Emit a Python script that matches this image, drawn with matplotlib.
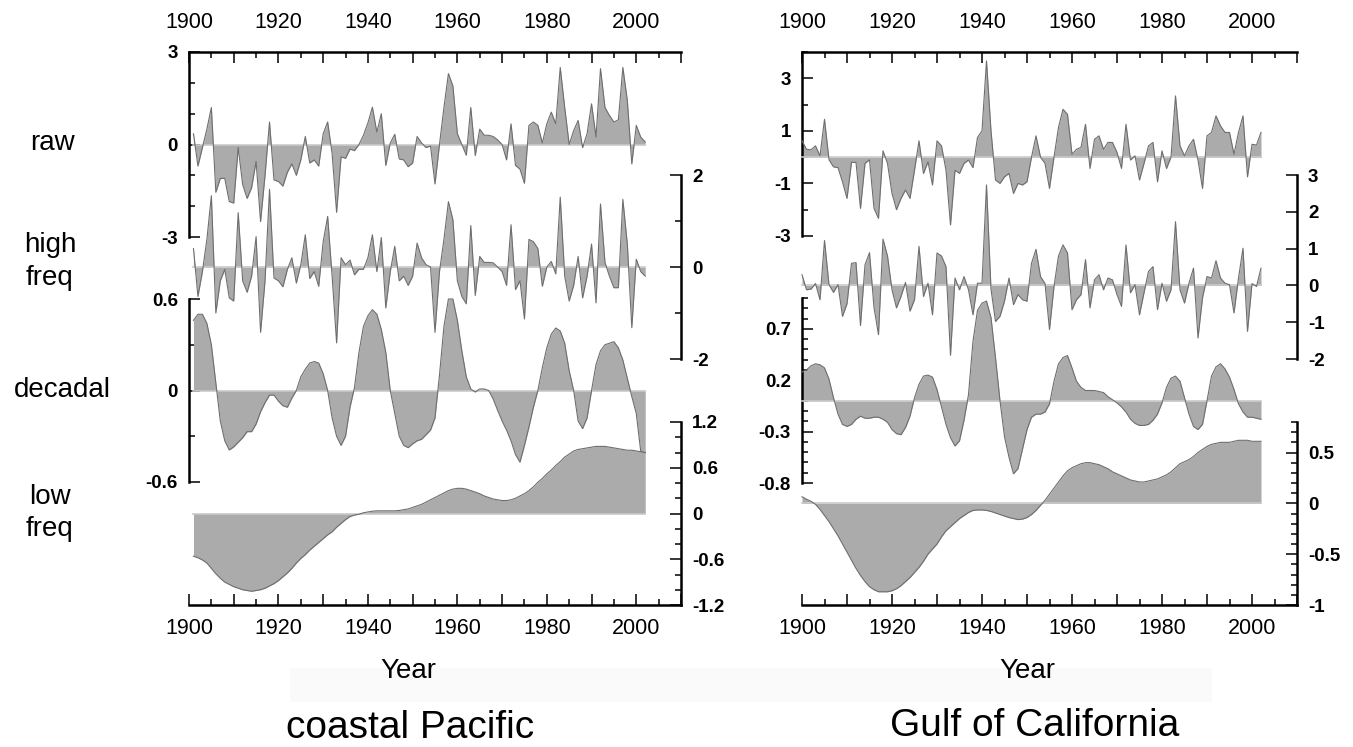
import matplotlib.pyplot as plt
import numpy as np
from matplotlib.patches import Rectangle
from matplotlib.ticker import FuncFormatter

plt.rcParams['font.family'] = ['Liberation Sans', 'DejaVu Sans']

W, H = 1353, 747

# ---- coastal Pacific (left) ----
years_cp = np.arange(1901, 2003)
raw_cp = [0.35, -0.7, -0.1, 0.5, 1.2, -1.55, -1.1, -1.1, -1.85, -1.9,
          -0.1, -1.3, -1.75, -1.4, -0.55, -2.5, -1.0, 0.73, -1.15, -1.2,
          -1.35, -0.9, -0.63, -1.0, -0.5, 0.26, -0.6, -0.5, -0.7, 0.35,
          0.73, -0.3, -2.2, -0.4, -0.45, -0.15, -0.2, 0.0, 0.3, 0.7,
          1.21, 0.4, 1.0, -0.68, 0.05, 0.33, -0.47, -0.5, -0.72, -0.6,
          0.26, 0.05, -0.1, -0.05, -1.28, 0.0, 1.2, 2.3, 1.9, 0.35,
          0.0, -0.35, 1.2, -0.36, 0.5, 0.3, 0.3, 0.26, 0.15, 0.0,
          -0.5, 0.67, -0.68, -0.8, -1.26, 0.62, 0.73, 0.62, 0.05, 0.67,
          1.05, 0.67, 2.5, 1.2, 0.0, 0.45, 0.78, -0.1, 0.35, 1.32,
          0.24, 2.46, 1.2, 0.94, 0.73, 0.8, 2.5, 1.43, -0.63, 0.62,
          0.24, 0.08]
high_cp = [0.4, -0.64, -0.1, 0.6, 1.55, -1.0, -0.3, -0.05, -0.67, -0.74,
           1.18, -0.3, -0.55, -0.2, 0.66, -1.42, -0.3, 1.69, -0.24, -0.3,
           -0.43, -0.05, 0.2, -0.35, 0.05, 0.7, -0.25, -0.1, -0.42, 0.55,
           1.1, -0.2, -1.65, 0.2, 0.05, 0.15, -0.17, -0.05, -0.05, 0.2,
           0.7, -0.1, 0.64, -0.89, -0.1, 0.45, -0.3, -0.2, -0.4, -0.2,
           0.52, 0.2, 0.05, 0.0, -1.42, -0.1, 0.6, 1.42, 1.03, -0.3,
           -0.64, -0.8, 0.9, -0.62, 0.23, 0.1, 0.1, 0.09, 0.0, -0.1,
           -0.4, 0.92, -0.49, -0.3, -1.13, 0.6, 0.55, 0.4, -0.42, 0.0,
           0.12, -0.15, 1.52, -0.2, -0.74, -0.4, 0.23, -0.67, -0.2, 0.5,
           -0.78, 1.37, 0.1, -0.2, -0.45, -0.45, 1.47, 0.5, -1.32, 0.17,
           -0.1, -0.2]
dec_cp = [0.46, 0.5, 0.5, 0.44, 0.3, 0.05, -0.2, -0.33, -0.39, -0.37,
          -0.34, -0.31, -0.27, -0.27, -0.22, -0.14, -0.08, -0.03, -0.03, -0.07,
          -0.1, -0.11, -0.05, 0.0, 0.09, 0.14, 0.18, 0.19, 0.18, 0.11,
          0.0, -0.18, -0.3, -0.36, -0.3, -0.11, 0.02, 0.25, 0.42, 0.49,
          0.53, 0.5, 0.4, 0.25, 0.0, -0.15, -0.3, -0.36, -0.375, -0.35,
          -0.33, -0.32, -0.29, -0.26, -0.18, 0.1, 0.42, 0.6, 0.6, 0.46,
          0.26, 0.09, 0.01, -0.01, 0.01, 0.01, 0.0, -0.055, -0.13, -0.2,
          -0.26, -0.33, -0.42, -0.47, -0.36, -0.24, -0.11, 0.0, 0.15, 0.28,
          0.37, 0.41, 0.39, 0.31, 0.13, 0.0, -0.2, -0.25, -0.18, 0.0,
          0.17, 0.26, 0.3, 0.31, 0.32, 0.28, 0.2, 0.08, -0.04, -0.15,
          -0.4, -0.41]
low_cp = [-0.56, -0.58, -0.61, -0.65, -0.72, -0.79, -0.85, -0.9, -0.93, -0.96,
          -0.98, -1.0, -1.01, -1.02, -1.01, -1.0, -0.98, -0.95, -0.92, -0.88,
          -0.83, -0.78, -0.72, -0.65, -0.59, -0.54, -0.48, -0.43, -0.38, -0.33,
          -0.28, -0.24, -0.18, -0.13, -0.08, -0.04, -0.02, -0.01, 0.01, 0.02,
          0.03, 0.035, 0.035, 0.035, 0.035, 0.035, 0.04, 0.05, 0.06, 0.08,
          0.1, 0.12, 0.15, 0.18, 0.21, 0.24, 0.27, 0.3, 0.32, 0.33,
          0.33, 0.32, 0.3, 0.28, 0.26, 0.23, 0.21, 0.19, 0.18, 0.17,
          0.17, 0.18, 0.2, 0.23, 0.26, 0.3, 0.35, 0.41, 0.46, 0.52,
          0.57, 0.63, 0.68, 0.74, 0.78, 0.82, 0.84, 0.85, 0.86, 0.87,
          0.88, 0.88, 0.88, 0.87, 0.86, 0.85, 0.84, 0.83, 0.83, 0.82,
          0.81, 0.8]

# ---- Gulf of California (right) ----
years_gc = np.arange(1900, 2003)
raw_gc = [0.62, 0.3, 0.28, 0.43, 0.05, 1.44, -0.1, -0.37, -0.4, -0.94,
          -1.57, -0.2, -0.2, -1.95, -0.24, -0.1, -1.95, -2.33, 0.24, -0.24,
          -1.38, -2.0, -1.57, -1.25, -1.57, -0.5, 0.62, -0.62, -0.18, -1.06,
          0.62, 0.43, -0.5, -2.58, -0.5, -0.62, -0.24, -0.11, -0.4, 0.75,
          1.0, 3.66, 1.0, -0.87, -1.0, -0.75, -0.62, -1.38, -1.0, -1.06,
          -0.94, 0.0, 0.81, 0.0, -0.24, -1.19, 0.0, 1.13, 1.82, 1.63,
          0.11, 0.3, 0.37, 1.25, -0.43, 0.68, 0.81, 0.3, 0.56, 0.56,
          0.18, -0.43, 1.25, -0.11, 0.05, -0.87, -0.24, 0.43, 0.56, -0.94,
          0.24, -0.43, 0.0, 2.33, 0.43, 0.05, 0.43, 0.68, -0.11, -1.19,
          0.81, 0.94, 1.57, 1.19, 0.94, 0.94, 0.11, 0.94, 1.57, -0.75,
          0.49, 0.46, 0.94]
high_gc = [0.29, -0.12, -0.1, 0.05, -0.39, 1.22, 0.02, -0.19, 0.02, -0.84,
           -0.5, 0.6, 0.62, -1.09, 0.56, 0.89, -0.6, -1.34, 1.26, 0.8,
           -0.12, -0.61, -0.3, 0.08, -0.7, -0.39, 1.06, -0.3, 0.06, -0.8,
           0.88, 0.8, 0.51, -1.9, 0.2, -0.12, 0.24, -0.12, -0.8, 0.06,
           0.06, 2.73, -0.1, -0.98, -0.84, -0.43, 0.2, -0.52, -0.25, -0.39,
           -0.43, 0.6, 0.98, 0.24, 0.05, -1.2, -0.03, 0.8, 1.1, 0.88,
           -0.66, -0.39, -0.25, 0.7, -0.61, 0.15, 0.29, -0.12, 0.2, 0.15,
           -0.25, -0.57, 1.1, -0.2, 0.02, -0.8, -0.2, 0.38, 0.51, -0.66,
           0.06, -0.43, -0.12, 1.73, -0.12, -0.48, 0.06, 0.47, -1.43, -0.34,
           0.24, 0.2, 0.67, 0.2, 0.06, 0.02, -0.75, 0.2, 1.01, -1.25,
           0.05, -0.03, 0.47]
dec_gc = [0.28, 0.3, 0.34, 0.36, 0.35, 0.32, 0.21, 0.03, -0.13, -0.23,
          -0.25, -0.23, -0.18, -0.15, -0.17, -0.17, -0.16, -0.16, -0.18, -0.21,
          -0.28, -0.32, -0.33, -0.26, -0.15, 0.03, 0.16, 0.24, 0.25, 0.23,
          0.11, -0.06, -0.23, -0.36, -0.44, -0.39, -0.19, 0.06, 0.58, 0.88,
          0.95, 0.97, 0.81, 0.42, 0.0, -0.35, -0.55, -0.71, -0.66, -0.47,
          -0.28, -0.16, -0.13, -0.13, -0.11, -0.03, 0.19, 0.36, 0.42, 0.44,
          0.32, 0.19, 0.13, 0.1, 0.1, 0.1, 0.09, 0.08, 0.04, 0.01,
          -0.02, -0.06, -0.11, -0.18, -0.22, -0.24, -0.24, -0.23, -0.19, -0.13,
          -0.02, 0.13, 0.22, 0.24, 0.19, 0.03, -0.13, -0.25, -0.28, -0.23,
          0.0, 0.24, 0.33, 0.36, 0.31, 0.23, 0.11, -0.03, -0.11, -0.16,
          -0.16, -0.17, -0.18]
low_gc = [0.065, 0.04, 0.02, -0.01, -0.06, -0.12, -0.18, -0.25, -0.32, -0.4,
          -0.48, -0.56, -0.64, -0.71, -0.77, -0.82, -0.85, -0.87, -0.87, -0.87,
          -0.86, -0.84, -0.81, -0.77, -0.73, -0.68, -0.63, -0.57, -0.5, -0.45,
          -0.4, -0.33, -0.27, -0.23, -0.19, -0.15, -0.12, -0.09, -0.07, -0.065,
          -0.065, -0.07, -0.08, -0.095, -0.11, -0.125, -0.14, -0.15, -0.16, -0.155,
          -0.14, -0.11, -0.07, -0.02, 0.03, 0.09, 0.15, 0.21, 0.27, 0.32,
          0.35, 0.37, 0.39, 0.4, 0.4, 0.39, 0.38, 0.36, 0.34, 0.31,
          0.29, 0.27, 0.25, 0.23, 0.22, 0.21, 0.21, 0.22, 0.23, 0.24,
          0.26, 0.28, 0.31, 0.35, 0.39, 0.41, 0.43, 0.46, 0.5, 0.53,
          0.56, 0.58, 0.59, 0.6, 0.6, 0.6, 0.61, 0.62, 0.62, 0.62,
          0.61, 0.61, 0.61]

row_labels = ['raw', 'high\nfreq', 'decadal', 'low\nfreq']
year_labels = [1900, 1920, 1940, 1960, 1980, 2000]

# tick values / labels for each series axis
cp_major = [[3, 0, -3], [2, 0, -2], [0.6, 0, -0.6], [1.2, 0.6, 0, -0.6, -1.2]]
cp_major_lab = [['3', '0', '-3'], ['2', '0', '-2'], ['0.6', '0', '-0.6'],
                ['1.2', '0.6', '0', '-0.6', '-1.2']]
gc_major = [[3, 1, -1, -3], [3, 2, 1, 0, -1, -2], [0.7, 0.2, -0.3, -0.8],
            [0.5, 0, -0.5, -1]]
gc_major_lab = [['3', '1', '-1', '-3'], ['3', '2', '1', '0', '-1', '-2'],
                ['0.7', '0.2', '-0.3', '-0.8'], ['0.5', '0', '-0.5', '-1']]

FILL = '#ababab'
EDGE = '#6e6e6e'


def px_axes(fig, x0, y0, x1, y1):
    return fig.add_axes([x0 / W, 1 - y1 / H, (x1 - x0) / W, (y1 - y0) / H])


def year_fmt(v, pos):
    y = int(round(v))
    return str(y) if y in year_labels else ''


def draw_panel(fig, x0, x1, years, series, ylims, ybands, sides, majors, labels, minor_steps):
    # outer frame with year axis on top and bottom
    fr = px_axes(fig, x0, 52, x1, 605)
    fr.set_facecolor('none')
    fr.set_xlim(1900, 2010)
    fr.set_ylim(0, 1)
    fr.set_yticks([])
    for s in ['left', 'right']:
        fr.spines[s].set_visible(False)
    for s in ['top', 'bottom']:
        fr.spines[s].set_linewidth(1.8)
    fr.set_xticks(np.arange(1900, 2011, 10))
    fr.set_xticks(np.arange(1905, 2010, 10), minor=True)
    fr.xaxis.set_major_formatter(FuncFormatter(year_fmt))
    fr.tick_params(axis='x', which='both', direction='in', top=True, bottom=True,
                   labeltop=False, labelbottom=True, width=1.1, labelsize=15.5, pad=9)
    fr.tick_params(axis='x', which='major', length=8)
    fr.tick_params(axis='x', which='minor', length=4)
    top = fr.secondary_xaxis('top')
    top.set_xticks(year_labels)
    top.xaxis.set_major_formatter(FuncFormatter(year_fmt))
    top.tick_params(axis='x', length=0, labelsize=15.5, pad=14)
    top.spines['top'].set_visible(False)

    for vals, ylim, band, side, maj, lab, step in zip(series, ylims, ybands, sides,
                                                      majors, labels, minor_steps):
        ax = px_axes(fig, x0, band[0], x1, band[1])
        ax.set_facecolor('none')
        ax.set_xlim(1900, 2010)
        ax.set_ylim(*ylim)
        ax.set_xticks([])
        for s in ['top', 'bottom', 'left', 'right']:
            ax.spines[s].set_visible(s == side)
        ax.spines[side].set_linewidth(1.8)
        ax.fill_between(years, 0, vals, color=FILL, lw=0, clip_on=False, zorder=2)
        ax.plot([years[0], years[-1]], [0, 0], color='#c9c9c9', lw=1.2,
                clip_on=False, zorder=3)
        ax.plot(years, vals, color=EDGE, lw=0.8, clip_on=False, zorder=4)
        ax.yaxis.set_ticks_position(side)
        ax.set_yticks(maj, labels=lab)
        if step:
            mn = np.arange(ylim[0], ylim[1] + 1e-6, step)
            ax.set_yticks([m for m in mn if min(abs(m - v) for v in maj) > 1e-6], minor=True)
        ax.tick_params(axis='y', which='both', direction='in', width=1.1, pad=8,
                       labelsize=13.5)
        ax.tick_params(axis='y', which='major', length=8)
        ax.tick_params(axis='y', which='minor', length=4)
        for t in ax.get_yticklabels():
            t.set_fontweight('bold')


fig = plt.figure(figsize=(W / 100, H / 100), dpi=100)

# faint band behind the "Year" labels
fig.patches.append(Rectangle((290 / W, 1 - 702 / H), (1212 - 290) / W, 34 / H,
                             transform=fig.transFigure, facecolor='#fafafa',
                             edgecolor='none', zorder=0))

draw_panel(fig, 189, 681, years_cp, [raw_cp, high_cp, dec_cp, low_cp],
           [(-3, 3), (-2, 2), (-0.6, 0.6), (-1.2, 1.2)],
           [(52, 237), (175, 359), (299, 482), (422, 605)],
           ['left', 'right', 'left', 'right'],
           cp_major, cp_major_lab, [1, 1, 0.3, 0.2])

draw_panel(fig, 802, 1297, years_gc, [raw_gc, high_gc, dec_gc, low_gc],
           [(-3, 4), (-2, 3), (-0.8, 1.0), (-1.0, 0.8)],
           [(52, 236), (175, 359), (298, 483), (422, 605)],
           ['left', 'right', 'left', 'right'],
           gc_major, gc_major_lab, [1, 0, 0.1, 0.1])

# row labels on the left
for lab, (x, y) in zip(row_labels, [(52, 143), (50, 262), (62, 390), (50, 513)]):
    fig.text(x / W, 1 - y / H, lab, ha='center', va='center', fontsize=20,
             linespacing=1.35)

fig.text(408 / W, 1 - 671 / H, 'Year', ha='center', va='center', fontsize=20)
fig.text(1027 / W, 1 - 671 / H, 'Year', ha='center', va='center', fontsize=20)
fig.text(410 / W, 1 - 728 / H, 'coastal Pacific', ha='center', va='center', fontsize=28)
fig.text(1035 / W, 1 - 726 / H, 'Gulf of California', ha='center', va='center', fontsize=28)

fig.savefig('out.png', dpi=100)
